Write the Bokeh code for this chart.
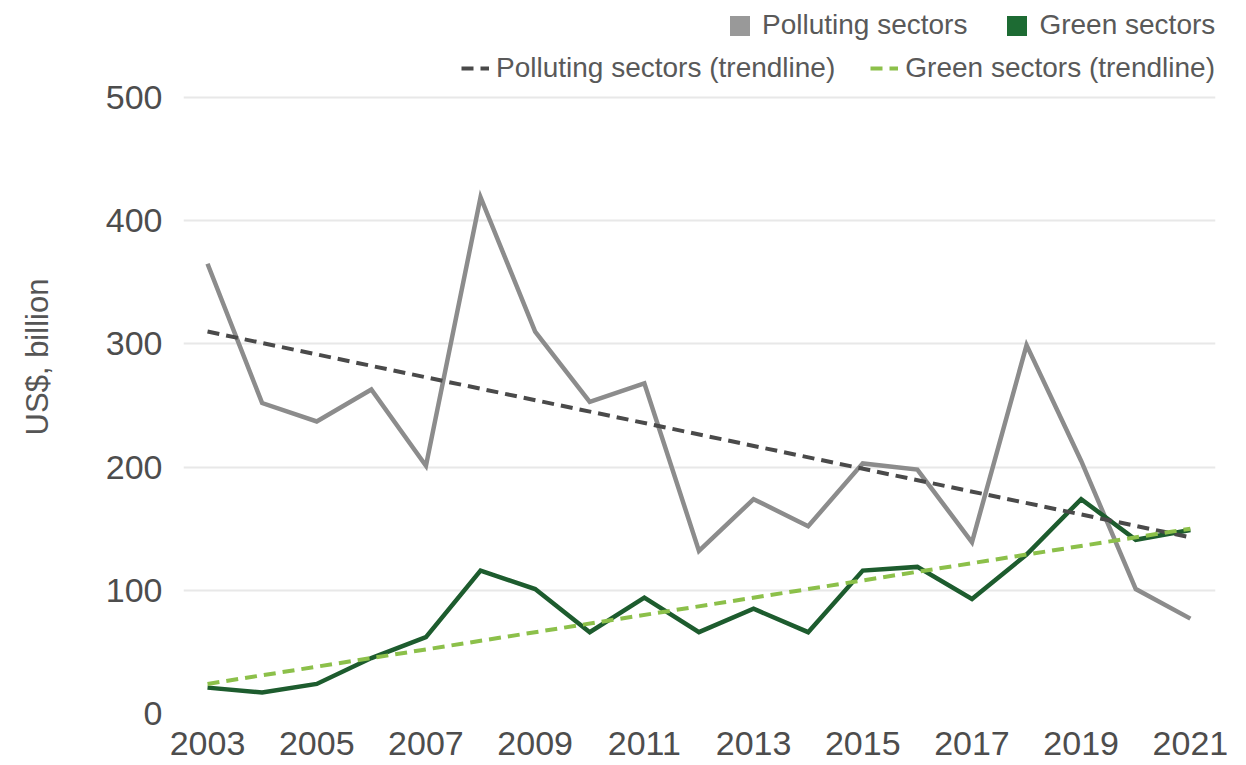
from bokeh.plotting import figure
from bokeh.models import Range1d, FixedTicker, Legend, LegendItem, ColumnDataSource
from bokeh.embed import file_html
from bokeh.resources import INLINE

# ---- data ----
years = list(range(2003, 2022))
polluting = [365, 252, 237, 263, 201, 419, 310, 253, 268, 132, 174, 152, 203, 198, 139, 299, 205, 101, 77]
green = [21, 17, 24, 45, 62, 116, 101, 66, 94, 66, 85, 66, 116, 119, 93, 129, 174, 141, 149]
trend_years = [2003, 2021]
polluting_trend = [310, 143]
green_trend = [24, 150]
x_ticks = [2003, 2005, 2007, 2009, 2011, 2013, 2015, 2017, 2019, 2021]
y_ticks = [0, 100, 200, 300, 400, 500]

TICK_FONT = "Liberation Sans"
TEXT_FONT = "Liberation Sans"

POLL_C = "#8c8c8c"
GREEN_C = "#1d5c2e"
POLL_T = "#4a4a4a"
GREEN_T = "#8cc04a"

# the frame extends above the 500 gridline so the legend rows sit inside it
p = figure(width=1246, height=765, output_backend="svg", toolbar_location=None,
           x_range=Range1d(2002.56, 2021.46), y_range=Range1d(0, 578.7),
           min_border_left=183, min_border_right=31, min_border_top=0, min_border_bottom=52)
p.outline_line_color = None
p.background_fill_color = "white"
p.border_fill_color = "white"

p.xgrid.grid_line_color = None
p.ygrid.grid_line_color = "#e8e8e8"
p.ygrid.grid_line_width = 2

for ax in (p.xaxis[0], p.yaxis[0]):
    ax.axis_line_color = None
    ax.major_tick_line_color = None
    ax.minor_tick_line_color = None
    ax.major_label_text_font = TICK_FONT
    ax.major_label_text_font_size = "34px"
    ax.major_label_text_color = "#4d4d4d"

p.xaxis.ticker = FixedTicker(ticks=x_ticks)
p.yaxis.ticker = FixedTicker(ticks=y_ticks)
p.xaxis.major_label_standoff = 12
p.yaxis.major_label_standoff = 15
p.yaxis.axis_label = "US$, billion"
p.yaxis.axis_label_text_font = TEXT_FONT
p.yaxis.axis_label_text_font_size = "31px"
p.yaxis.axis_label_text_font_style = "normal"
p.yaxis.axis_label_text_color = "#555555"
p.yaxis.axis_label_standoff = 48

src = ColumnDataSource(dict(year=years, polluting=polluting, green=green))
tsrc = ColumnDataSource(dict(year=trend_years, polluting=polluting_trend, green=green_trend))

p.line("year", "polluting", source=src, line_color=POLL_C, line_width=4.5, line_join="miter")
p.line("year", "green", source=src, line_color=GREEN_C, line_width=4.5, line_join="miter")
r_pt = p.line("year", "polluting", source=tsrc, line_color=POLL_T, line_width=4, line_dash="12 7")
r_gt = p.line("year", "green", source=tsrc, line_color=GREEN_T, line_width=4, line_dash="12 7")

# square legend swatches (proxies that draw nothing in the plot)
nan = float("nan")
r_ps = p.quad(left=[nan], right=[nan], top=[nan], bottom=[nan], fill_color="#999999", line_color=None)
r_gs = p.quad(left=[nan], right=[nan], top=[nan], bottom=[nan], fill_color="#1d6b33", line_color=None)

common = dict(orientation="horizontal", border_line_color=None,
              background_fill_alpha=0, padding=0, margin=0,
              label_text_font=TEXT_FONT, label_text_font_size="28px",
              label_text_color="#595959")

leg1 = Legend(items=[LegendItem(label="Polluting sectors", renderers=[r_ps]),
                     LegendItem(label="Green sectors", renderers=[r_gs])],
              glyph_width=25, glyph_height=25, label_height=34, label_standoff=10, spacing=37,
              location=(544, 671), **common)
leg2 = Legend(items=[LegendItem(label="Polluting sectors (trendline)", renderers=[r_pt]),
                     LegendItem(label="Green sectors (trendline)", renderers=[r_gt])],
              glyph_width=28, glyph_height=40, label_standoff=7, spacing=35,
              location=(278, 625), **common)
p.add_layout(leg1)
p.add_layout(leg2)

open("out.html", "w").write(file_html(p, INLINE))
